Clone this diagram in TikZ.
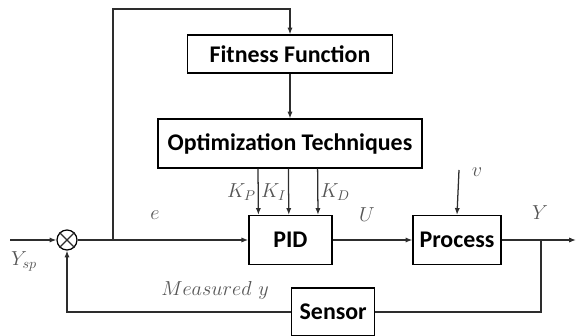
\documentclass[tikz,border=0pt]{standalone}
\usepackage{fontspec}
\setsansfont{Carlito}
\usetikzlibrary{arrows.meta, positioning, calc}
\definecolor{cLine}{RGB}{45,45,45}
\definecolor{cLabel}{RGB}{85,85,85}
\tikzset{
    block/.style ={rectangle, draw=black, line width=0.9pt, fill=white, align=center, inner sep=0pt, font=\sffamily\bfseries\fontsize{17}{20}\selectfont},
    signal/.style={-{Latex[length=1.7mm, width=1.3mm]}, line width=0.9pt, cLine},
    wire/.style  ={line width=0.9pt, cLine},
    lbl/.style   ={text=cLabel, font=\Large},
}
\begin{document}
\begin{tikzpicture}
    \useasboundingbox (0,0) rectangle (14.425,8.4);
    % blocks
    \node[block, minimum width=5.125cm, minimum height=0.95cm] (fit) at (7.25,7.05) {Fitness Function};
    \node[block, minimum width=6.6cm, minimum height=1.225cm] (opt) at (7.25,4.81) {Optimization Techniques};
    \node[block, minimum width=2.075cm, minimum height=1.225cm] (pid) at (7.26,2.4) {PID};
    \node[block, minimum width=2.2cm, minimum height=1.225cm] (proc) at (11.425,2.4) {Process};
    \node[block, minimum width=2.075cm, minimum height=1.2cm] (sens) at (8.33,0.6) {Sensor};
    \node[circle, draw=black, line width=0.9pt, minimum size=0.5cm, inner sep=0pt] (sum) at (1.675,2.4) {};
    \draw[wire] (sum.north west) -- (sum.south east) (sum.north east) -- (sum.south west);
    % points
    \coordinate (in) at (0.25,2.4);
    \coordinate (out) at (14.4,2.4);
    \coordinate (tap) at (2.825,2.4);
    \coordinate (top) at (2.825,8.175);
    \coordinate (br) at (13.525,2.4);
    \coordinate (dist) at (11.475,4.15);
    % signals
    \draw[signal] (in) -- (sum.west);
    \draw[signal] (sum.east) -- (pid.west);
    \draw[signal] (tap) |- (top) -| (fit.north);
    \draw[signal] (fit) -- (opt);
    \foreach \dx/\k/\side in {-0.8/P/left, -0.04/I/left, 0.69/D/right}
        \draw[signal] ($(opt.south)+(\dx,0)$) -- ($(pid.north)+(\dx,0)$)
            node[lbl, midway, \side=-2pt] {$K_\k$};
    \draw[signal] (pid.east) -- (proc.west);
    \draw[signal] (dist) -- (proc.north);
    \draw[signal] (proc.east) -- (out);
    \draw[wire] (br) |- (sens.east);
    \draw[signal] (sens.west) -| (sum.south);
    % labels
    \node[lbl] (ysp) at (0.6,1.875) {$Y_{sp}$};
    \node[lbl] (elbl) at (3.875,3.025) {$e$};
    \node[lbl] (ulbl) at (9.175,3.025) {$U$};
    \node[lbl] (vlbl) at (11.925,4.1) {$v$};
    \node[lbl] (ylbl) at (13.5,3.075) {$Y$};
    \node[lbl] (meas) at (5.375,1.15) {$Measured\ y$};
\end{tikzpicture}
\end{document}
